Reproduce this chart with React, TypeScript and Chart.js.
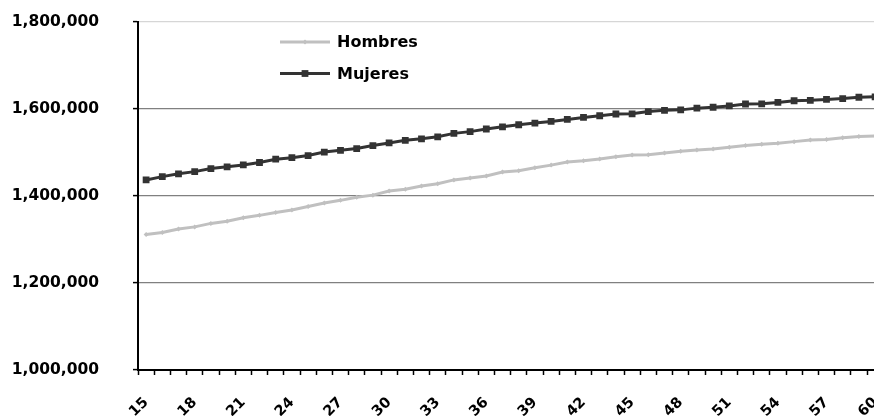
import React, { useEffect, useRef } from 'react';
import { Chart, registerables } from 'chart.js';

Chart.register(...registerables);

// Ages on the category axis
const ages = [
  '15', '16', '17', '18', '19', '20', '21', '22', '23', '24', '25', '26',
  '27', '28', '29', '30', '31', '32', '33', '34', '35', '36', '37', '38',
  '39', '40', '41', '42', '43', '44', '45', '46', '47', '48', '49', '50',
  '51', '52', '53', '54', '55', '56', '57', '58', '59', '60',
];

// Ages that carry a printed label
const labeledAges = ['15', '18', '21', '24', '27', '30', '33', '36', '39', '42', '45', '48', '51', '54', '57', '60'];

// Value axis ticks
const yTicks = [1000000, 1200000, 1400000, 1600000, 1800000];

const hombres = [
  1311600, 1316000, 1324000, 1329000, 1337000, 1342000, 1350000, 1355500,
  1362000, 1368000, 1376000, 1384000, 1390000, 1397000, 1402000, 1411500,
  1415500, 1423000, 1428000, 1437000, 1441500, 1446000, 1455000, 1458000,
  1465000, 1471000, 1478000, 1481000, 1485000, 1490000, 1494000, 1495000,
  1499000, 1503000, 1506000, 1508000, 1512000, 1516000, 1519000, 1521000,
  1525000, 1528500, 1530000, 1534000, 1537000, 1538000,
];

const mujeres = [
  1437000, 1444500, 1451000, 1456000, 1463000, 1467000, 1471500, 1477000,
  1484600, 1488000, 1493000, 1501000, 1505000, 1509000, 1516000, 1522000,
  1528000, 1531500, 1536000, 1544000, 1548000, 1554000, 1559000, 1563800,
  1567700, 1571400, 1576000, 1580600, 1584500, 1588500, 1589000, 1594000,
  1597000, 1598000, 1602000, 1604000, 1607000, 1611500, 1612000, 1615000,
  1619000, 1620000, 1622000, 1624000, 1627000, 1628000,
];

const FONT = '"DejaVu Sans", Arial, sans-serif';

// Legend drawn inside the plot: a short line with its marker, then the name
const inlineLegend = {
  id: 'inlineLegend',
  afterDraw(chart: any) {
    const { ctx, chartArea } = chart;
    const x0 = chartArea.left + 142;
    const x1 = chartArea.left + 192;
    const rows = [chartArea.top + 20, chartArea.top + 51.5];
    chart.data.datasets.forEach((ds: any, i: number) => {
      const y = rows[i];
      ctx.save();
      ctx.strokeStyle = ds.borderColor;
      ctx.lineWidth = ds.borderWidth;
      ctx.beginPath();
      ctx.moveTo(x0, y);
      ctx.lineTo(x1, y);
      ctx.stroke();
      const cx = (x0 + x1) / 2;
      ctx.fillStyle = ds.pointBackgroundColor;
      if (ds.pointStyle === 'rect') {
        const s = ds.pointRadius * Math.SQRT1_2;
        ctx.fillRect(cx - s, y - s, 2 * s, 2 * s);
      } else {
        const r = ds.pointRadius;
        ctx.beginPath();
        ctx.moveTo(cx, y - r);
        ctx.lineTo(cx + r, y);
        ctx.lineTo(cx, y + r);
        ctx.lineTo(cx - r, y);
        ctx.closePath();
        ctx.fill();
      }
      ctx.fillStyle = '#000';
      ctx.font = `bold 16px ${FONT}`;
      ctx.textAlign = 'left';
      ctx.textBaseline = 'middle';
      ctx.fillText(ds.label, x1 + 7, y + 1);
      ctx.restore();
    });
  },
};

export default function App() {
  const canvasRef = useRef<HTMLCanvasElement | null>(null);

  useEffect(() => {
    const canvas = canvasRef.current;
    if (!canvas) return;
    const chart = new Chart(canvas, {
      type: 'line',
      data: {
        labels: ages,
        datasets: [
          {
            label: 'Hombres',
            data: hombres,
            borderColor: '#c0c0c0',
            backgroundColor: '#c0c0c0',
            pointBackgroundColor: '#c0c0c0',
            pointBorderWidth: 0,
            borderWidth: 3,
            pointStyle: 'rectRot',
            pointRadius: 2.5,
            tension: 0,
          },
          {
            label: 'Mujeres',
            data: mujeres,
            borderColor: '#333333',
            backgroundColor: '#333333',
            pointBackgroundColor: '#333333',
            pointBorderWidth: 0,
            borderWidth: 3,
            pointStyle: 'rect',
            pointRadius: 4.8,
            tension: 0,
          },
        ],
      },
      options: {
        responsive: false,
        animation: false,
        events: [],
        layout: { padding: { top: 22, left: 0, right: 0, bottom: 0 } },
        plugins: {
          legend: { display: false },
          tooltip: { enabled: false },
        },
        scales: {
          x: {
            type: 'category',
            offset: true,
            grid: {
              offset: true,
              drawOnChartArea: false,
              drawTicks: true,
              tickLength: 5,
              tickColor: '#000',
              tickWidth: 1.5,
            },
            border: { color: '#000', width: 2 },
            ticks: {
              autoSkip: false,
              maxRotation: 45,
              minRotation: 45,
              padding: 19,
              color: '#000',
              font: { family: FONT, size: 14.5, weight: 'bold' },
              callback(value: any, index: number) {
                const lab = ages[index];
                return labeledAges.includes(lab) ? lab : '';
              },
            },
            afterFit(scale: any) {
              scale.height = 46;
              scale.paddingLeft = 0;
              scale.paddingRight = 0;
              scale.paddingTop = 0;
              scale.paddingBottom = 0;
            },
          },
          y: {
            min: yTicks[0],
            max: yTicks[yTicks.length - 1],
            afterBuildTicks(scale: any) {
              scale.ticks = yTicks.map((v) => ({ value: v }));
            },
            grid: {
              color: (c: any) => (c.tick && c.tick.value === yTicks[yTicks.length - 1] ? '#d6d6d6' : '#808080'),
              lineWidth: 1.2,
              drawTicks: true,
              tickLength: 5,
              tickColor: '#000',
              tickWidth: 1.5,
            },
            border: { color: '#000', width: 2 },
            ticks: {
              padding: 34,
              color: '#000',
              font: { family: FONT, size: 15.5, weight: 'bold' },
              callback(value: any) {
                return Number(value).toLocaleString('en-US');
              },
            },
            afterFit(scale: any) {
              scale.width = 138;
              scale.paddingTop = 0;
              scale.paddingBottom = 0;
              scale.paddingLeft = 0;
              scale.paddingRight = 0;
            },
          },
        },
      },
      plugins: [inlineLegend],
    });
    return () => chart.destroy();
  }, []);

  return (
    <div
      style={{
        position: 'fixed',
        left: 0,
        top: 0,
        width: 874,
        height: 416,
        overflow: 'hidden',
        background: '#fff',
      }}
    >
      <canvas ref={canvasRef} width={888} height={416} style={{ display: 'block', width: 888, height: 416 }} />
    </div>
  );
}
